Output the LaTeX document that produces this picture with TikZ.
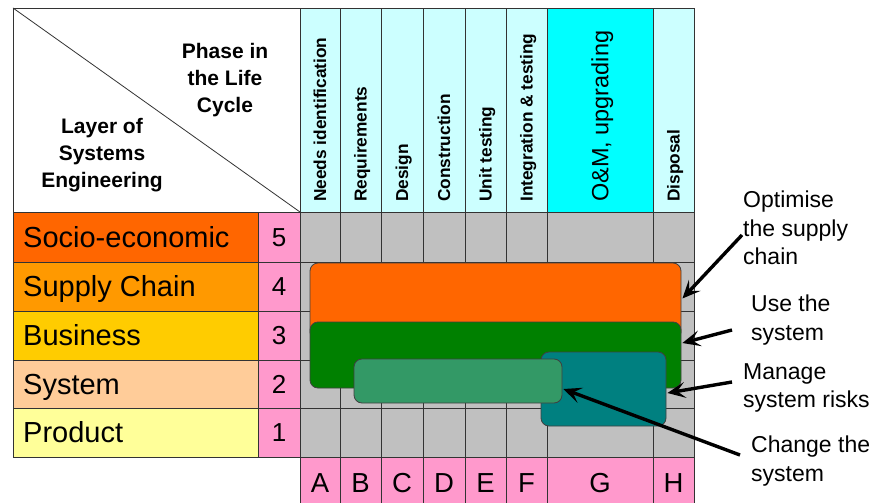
\documentclass[tikz,border=0pt]{standalone}
\usepackage{fontspec}
\setmainfont{Liberation Sans}
\usetikzlibrary{arrows.meta,calc}
\definecolor{gridline}{HTML}{333333}
\definecolor{gridgray}{HTML}{C0C0C0}
\definecolor{hdrcyan}{HTML}{CCFFFF}
\definecolor{omcyan}{HTML}{00FFFF}
\definecolor{socio}{HTML}{FF6600}
\definecolor{supply}{HTML}{FF9900}
\definecolor{business}{HTML}{FFCC00}
\definecolor{systemc}{HTML}{FFCC99}
\definecolor{product}{HTML}{FFFF99}
\definecolor{pinkcol}{HTML}{FF99CC}
\definecolor{laneorange}{HTML}{FF6600}
\definecolor{lanegreen}{HTML}{008000}
\definecolor{laneteal}{HTML}{008080}
\definecolor{lanesea}{HTML}{339966}
\begin{document}
\begin{tikzpicture}[x=1pt,y=-1pt,
  grid/.style={draw=gridline,line width=0.8pt},
  hdr/.style={font=\bfseries\fontsize{17.3}{20}\selectfont,rotate=90,anchor=west,
    inner sep=0pt,text height=12.4pt,text depth=0pt},
  hdrbig/.style={font=\fontsize{23.5}{28}\selectfont,rotate=90,anchor=west,
    inner sep=0pt,text height=16.8pt,text depth=0pt},
  rowlab/.style={font=\fontsize{29}{34}\selectfont,anchor=west,inner sep=0pt,
    text height=20.8pt,text depth=0pt},
  rownum/.style={font=\fontsize{26}{30}\selectfont,inner sep=0pt,
    text height=18.7pt,text depth=0pt},
  collet/.style={font=\fontsize{27.5}{32}\selectfont,inner sep=0pt,
    text height=19.7pt,text depth=0pt},
  cornertxt/.style={font=\bfseries\fontsize{21}{27}\selectfont,align=center,
    anchor=north,inner sep=0pt},
  note/.style={font=\fontsize{23}{28.5}\selectfont,align=left,
    anchor=north west,inner sep=0pt},
  lane/.style={draw=black!75,line width=0.8pt,rounded corners=8pt,inner sep=0pt},
  callout/.style={line width=3.4pt,-{Stealth[length=18pt,width=16pt,inset=8pt]}}
]
\useasboundingbox (0,0) rectangle (876,503);
\clip (0,0) rectangle (876,503);
\fill[white] (0,0) rectangle (876,503);

% corner cell with its diagonal
\draw[grid] (13,8) rectangle (300,212);
\draw[grid] (13,8) -- (300,212);
\node[cornertxt] (phase) at (225,42.7) {Phase in\\the Life\\Cycle};
\node[cornertxt] (layer) at (102,117.7) {Layer of\\Systems\\Engineering};

% life-cycle phase headers
\foreach \l/\r in {300/340,340/381,381/423,423/465,465/506,506/547,653/694}
  \filldraw[grid,fill=hdrcyan] (\l,8) rectangle (\r,212);
\filldraw[grid,fill=omcyan] (547,8) rectangle (653,212);
\foreach \cx/\txt/\nm in {320/Needs identification/hA, 360.5/Requirements/hB,
    402/Design/hC, 444/Construction/hD, 485.5/Unit testing/hE,
    526.5/Integration \& testing/hF, 673.5/Disposal/hH}
  \node[hdr] (\nm) at (\cx,202) {\txt};
\node[hdrbig] (hG) at (600,202) {O\&M, upgrading};

% gray matrix
\fill[gridgray] (300,212) rectangle (694,457);
\foreach \x in {300,340,381,423,465,506,547,653,694}
  \draw[grid] (\x,212) -- (\x,457);
\foreach \y in {212,262,311,360,408,457}
  \draw[grid] (300,\y) -- (694,\y);

% layers of systems engineering
\foreach \t/\b/\c/\lab/\num/\nm in {212/262/socio/Socio-economic/5/L5,
    262/311/supply/Supply Chain/4/L4, 311/360/business/Business/3/L3,
    360/408/systemc/System/2/L2, 408/457/product/Product/1/L1} {
  \filldraw[grid,fill=\c] (13,\t) rectangle (258,\b);
  \filldraw[grid,fill=pinkcol] (258,\t) rectangle (300,\b);
  \node[rowlab] (\nm) at (23,{(\t+\b)/2}) {\lab};
  \node[rownum] (n\nm) at (279,{(\t+\b)/2}) {\num};
}

% phase letters
\foreach \l/\r/\ch in {300/340/A,340/381/B,381/423/C,423/465/D,465/506/E,
    506/547/F,547/653/G,653/694/H} {
  \filldraw[grid,fill=pinkcol] (\l,457) rectangle (\r,512);
  \node[collet] (c\ch) at ({(\l+\r)/2},483) {\ch};
}

% activity bands
\node[lane,fill=laneorange,minimum width=371pt,minimum height=77pt] (optbox) at (495.5,301.5) {};
\node[lane,fill=lanegreen,minimum width=371pt,minimum height=66pt] (usebox) at (495.5,355) {};
\node[lane,fill=laneteal,minimum width=125pt,minimum height=74pt] (riskbox) at (603.5,389) {};
\node[lane,fill=lanesea,minimum width=208pt,minimum height=44pt] (chgbox) at (458,381) {};

% callouts
\node[note] (t1) at (743,191) {Optimise\\the supply\\chain};
\node[note] (t2) at (751,295) {Use the\\system};
\node[note] (t3) at (743,363) {Manage\\system risks};
\node[note] (t4) at (751,436) {Change the\\system};
\coordinate (s1) at (742,235);
\coordinate (s2) at (732,330);
\coordinate (s3) at (732,382);
\coordinate (s4) at (740,455);
\draw[callout] (s1) -- ($(optbox.east)+(1,-3)$);
\draw[callout] (s2) -- ($(usebox.east)+(1,-12)$);
\draw[callout] (s3) -- ($(riskbox.east)+(1,4)$);
\draw[callout] (s4) -- ($(chgbox.east)+(1,8)$);
\end{tikzpicture}
\end{document}
